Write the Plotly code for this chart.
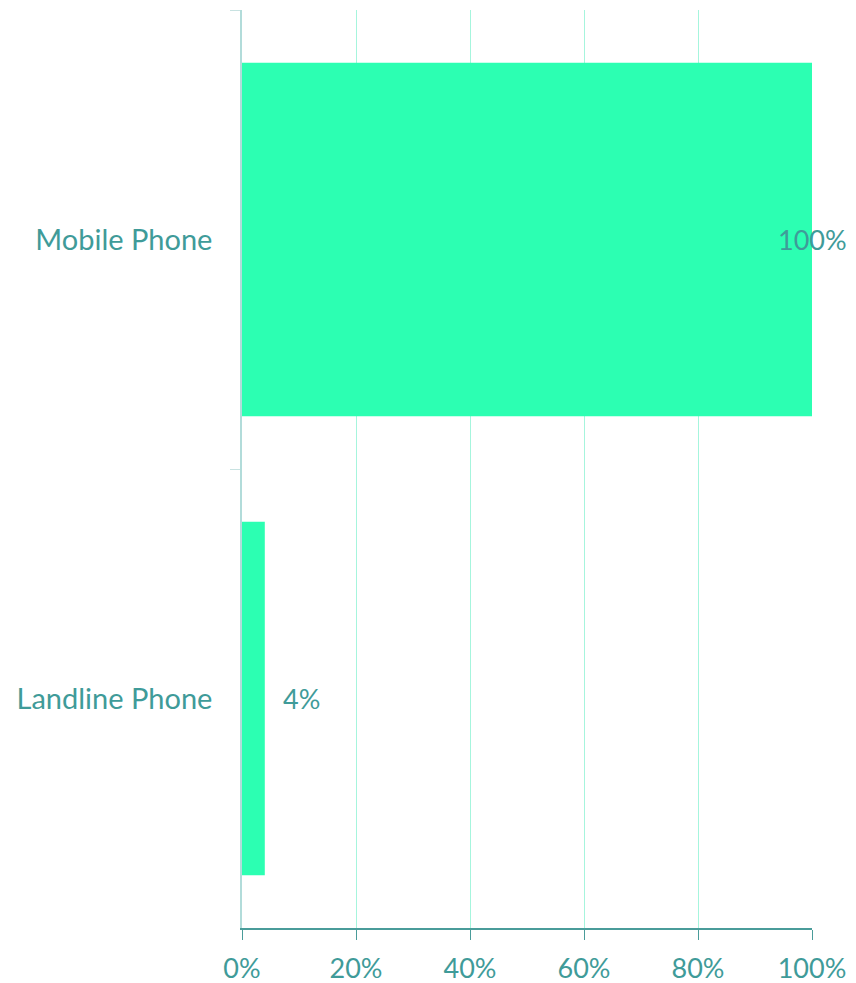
import plotly.graph_objects as go

categories = ["Mobile Phone", "Landline Phone"]
values = [100, 4]
labels = ["100%", "4%"]
tick_vals = [0, 20, 40, 60, 80, 100]
tick_text = ["0%", "20%", "40%", "60%", "80%", "100%"]

text_color = "#3f9b99"
font_family = "Lato, 'Open Sans', sans-serif"

fig = go.Figure(go.Bar(
    y=categories, x=values, orientation="h",
    marker=dict(color="#2cffb2", line=dict(width=0)),
    hoverinfo="skip",
))

shifts = [-36, 16]
for c, v, t, s in zip(categories, values, labels, shifts):
    fig.add_annotation(x=v, y=c, text=t, showarrow=False, xanchor="left",
                       xshift=s, font=dict(size=27, color=text_color, family=font_family))

fig.update_layout(
    width=848, height=975,
    margin=dict(l=234, r=44, t=2, b=55),
    paper_bgcolor="white", plot_bgcolor="white",
    bargap=0.23,
    showlegend=False,
    font=dict(family=font_family, size=27, color=text_color),
)
fig.update_xaxes(
    range=[0, 100], tickvals=tick_vals, ticktext=tick_text,
    showgrid=True, gridcolor="#a6f5dd", gridwidth=1,
    showline=True, linecolor="#4a9c9a", linewidth=1.5,
    ticks="outside", ticklen=10, tickcolor="#4a9c9a",
    ticklabelstandoff=6, automargin=False,
    zeroline=False, tickfont=dict(size=27, color=text_color),
)
fig.update_yaxes(
    categoryorder="array", categoryarray=categories, autorange="reversed",
    showline=True, linecolor="#b2dcda", linewidth=1.5,
    ticks="outside", ticklen=10, tickcolor="#c8e2e1", tickson="boundaries",
    ticklabelstandoff=22, automargin=False,
    tickfont=dict(size=29, color=text_color),
)
fig.write_html("out.html")
